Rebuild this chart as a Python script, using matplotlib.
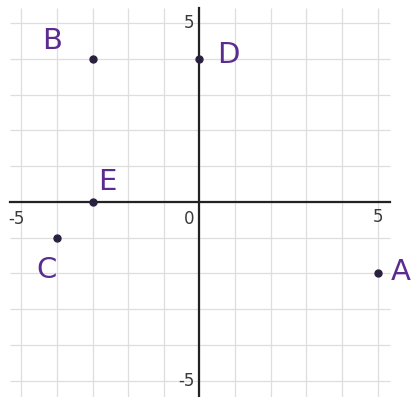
import matplotlib.pyplot as plt

# Points plotted on the grid
labels = ["A", "B", "C", "D", "E"]
xs = [5, -3, -4, 0, -3]
ys = [-2, 4, -1, 4, 0]
# where the handwritten letter sits for each point
label_x = [5.65, -4.15, -4.3, 0.8, -2.6]
label_y = [-1.95, 4.5, -1.9, 4.1, 0.55]

ticks = list(range(-5, 6))
purple = "#5b2c8f"

fig = plt.figure(figsize=(4.15, 3.97), dpi=100)
ax = fig.add_axes([0, 0, 1, 1])
ax.set_xlim(-5.60, 6.05)
ax.set_ylim(-5.45, 5.64)
ax.axis("off")

# Grid paper
ax.vlines(ticks, -5.6, 5.42, color="#dedede", lw=0.9, zorder=1)
ax.hlines(ticks, -5.32, 5.35, color="#dedede", lw=0.9, zorder=1)

# Axes
ax.plot([-5.32, 5.35], [0, 0], color="#222222", lw=1.6, zorder=2)
ax.plot([0, 0], [-5.6, 5.42], color="#222222", lw=1.6, zorder=2)

# Tick labels
tick_kw = dict(fontsize=12, color="#3a3a3a", zorder=3)
ax.text(-5.13, -0.22, "-5", ha="center", va="top", **tick_kw)
ax.text(-0.15, -0.22, "0", ha="right", va="top", **tick_kw)
ax.text(5.0, -0.18, "5", ha="center", va="top", **tick_kw)
ax.text(-0.15, 5.0, "5", ha="right", va="center", **tick_kw)
ax.text(-0.15, -5.0, "-5", ha="right", va="center", **tick_kw)

# Points and their letters
ax.plot(xs, ys, "o", color="#2a2140", ms=5, zorder=4)
for lab, lx, ly in zip(labels, label_x, label_y):
    ax.text(lx, ly, lab, fontsize=21, color=purple, ha="center",
            va="center", zorder=4)

fig.savefig("out.png", dpi=100)
